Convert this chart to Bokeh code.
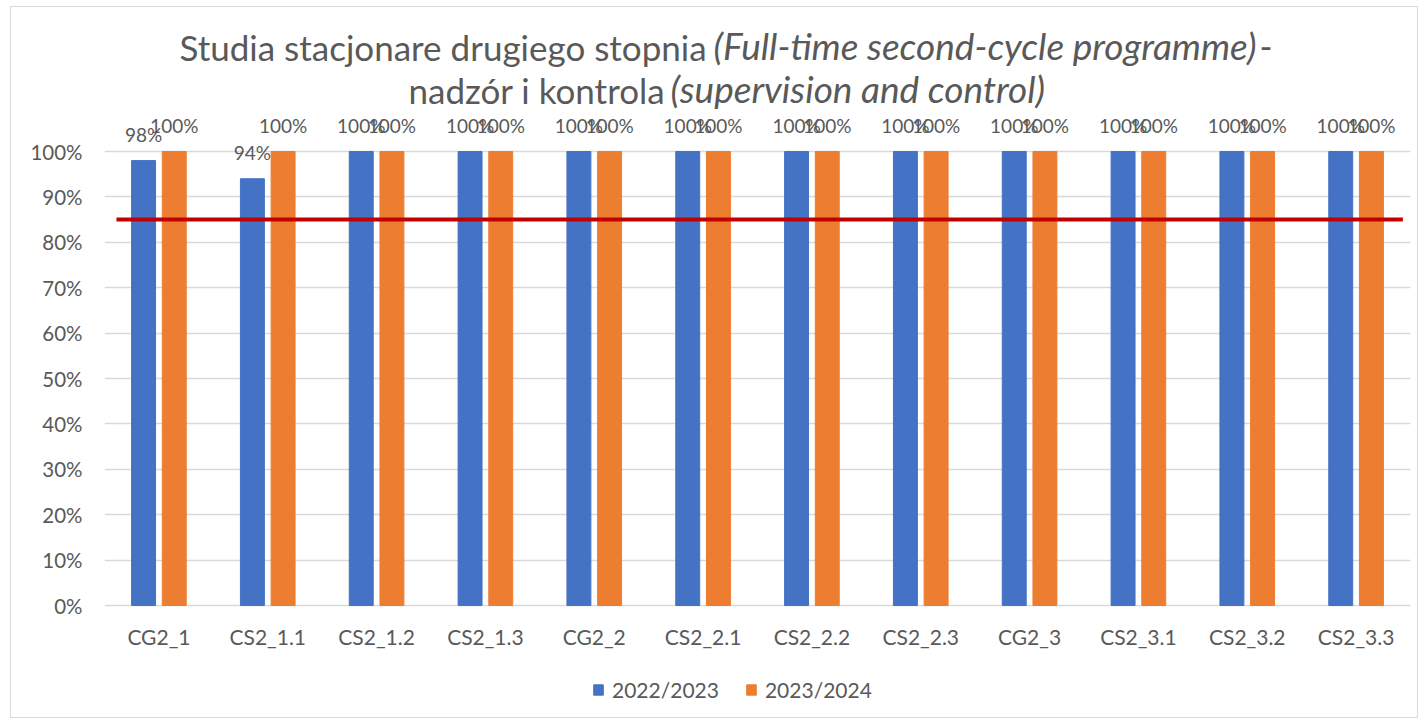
from bokeh.plotting import figure
from bokeh.models import (ColumnDataSource, FactorRange, Range1d, Legend, LegendItem,
                          Label, FixedTicker, NumeralTickFormatter)
from bokeh.transform import dodge
from bokeh.core.properties import value
from bokeh.embed import file_html
from bokeh.resources import INLINE

# ---------------- data ----------------
categories = ["CG2_1", "CS2_1.1", "CS2_1.2", "CS2_1.3", "CG2_2", "CS2_2.1",
              "CS2_2.2", "CS2_2.3", "CG2_3", "CS2_3.1", "CS2_3.2", "CS2_3.3"]
series_names = ["2022/2023", "2023/2024"]
values_2022_2023 = [0.98, 0.94, 1.00, 1.00, 1.00, 1.00, 1.00, 1.00, 1.00, 1.00, 1.00, 1.00]
values_2023_2024 = [1.00, 1.00, 1.00, 1.00, 1.00, 1.00, 1.00, 1.00, 1.00, 1.00, 1.00, 1.00]
threshold = 0.85
y_ticks = [0.0, 0.1, 0.2, 0.3, 0.4, 0.5, 0.6, 0.7, 0.8, 0.9, 1.0]

title_line1 = ["Studia stacjonare drugiego stopnia", "(Full-time second-cycle programme)", "-"]
title_line2 = ["nadzór i kontrola", "(supervision and control)"]

# ---------------- styling ----------------
FONT = "Lato"
TEXT = "#595959"
GRID = "#D9D9D9"
BLUE = "#4472C4"
ORANGE = "#ED7D31"
RED = "#C00000"

OX, OY = 11, 7            # page position of the canvas (css margin + border)
W, H = 1408, 712
FRAME_L, FRAME_R = 104, 1410   # page x of plot frame
ZERO_Y, ONE_Y = 605, 151       # page y of 0% and 100%
PX_PER_UNIT = ZERO_Y - ONE_Y
ML = FRAME_L - OX
MR = OX + W - FRAME_R
Y_END = (ZERO_Y - OY) / PX_PER_UNIT
Y_START = -(OY + H - ZERO_Y) / PX_PER_UNIT

src = ColumnDataSource(dict(
    cat=categories,
    v1=values_2022_2023,
    v2=values_2023_2024,
    l1=[f"{round(v*100)}%" for v in values_2022_2023],
    l2=[f"{round(v*100)}%" for v in values_2023_2024],
))

p = figure(x_range=FactorRange(factors=categories), y_range=Range1d(Y_START, Y_END),
           width=W, height=H, output_backend="svg", toolbar_location=None,
           title=None, min_border_left=ML, min_border_right=MR,
           min_border_top=0, min_border_bottom=0,
           styles={"border": "1px solid #D9D9D9", "margin-left": f"{OX - 1}px",
                   "margin-top": f"{OY - 1}px"})
p.outline_line_color = None
p.background_fill_color = "white"
p.border_fill_color = "white"

# grid / axes
p.xgrid.grid_line_color = None
p.ygrid.ticker = FixedTicker(ticks=y_ticks)
p.ygrid.grid_line_color = GRID
p.ygrid.grid_line_width = 1.5

p.yaxis.ticker = FixedTicker(ticks=y_ticks)
p.yaxis.formatter = NumeralTickFormatter(format="0%")
p.yaxis.axis_line_color = None
p.yaxis.major_tick_line_color = None
p.yaxis.minor_tick_line_color = None
p.yaxis.major_label_standoff = 16
p.yaxis.major_label_text_font = FONT
p.yaxis.major_label_text_font_size = "20.5px"
p.yaxis.major_label_text_color = TEXT

p.xaxis.fixed_location = 0
p.xaxis.axis_line_color = None
p.xaxis.major_tick_line_color = None
p.xaxis.major_tick_out = 0
p.xaxis.minor_tick_line_color = None
p.xaxis.major_label_standoff = 18
p.xaxis.major_label_text_font = FONT
p.xaxis.major_label_text_font_size = "21px"
p.xaxis.major_label_text_color = TEXT

# bars
BW = 0.22
OFF = 0.141
r1 = p.vbar(x=dodge("cat", -OFF, range=p.x_range), top="v1", width=BW, source=src,
            fill_color=BLUE, line_color=BLUE)
r2 = p.vbar(x=dodge("cat", OFF, range=p.x_range), top="v2", width=BW, source=src,
            fill_color=ORANGE, line_color=ORANGE)

# data labels
for col, lab, off in (("v1", "l1", -OFF), ("v2", "l2", OFF)):
    p.text(x=dodge("cat", off, range=p.x_range), y=col, text=lab, source=src,
           text_align="center", text_baseline="alphabetic", y_offset=-26,
           text_font=value(FONT), text_font_size="19px", text_color=TEXT)

# threshold line
thr_src = ColumnDataSource(dict(x0=[categories[0]], x1=[categories[-1]],
                                y0=[threshold], y1=[threshold]))
p.segment(x0=dodge("x0", -0.39, range=p.x_range), x1=dodge("x1", 0.43, range=p.x_range),
          y0="y0", y1="y1", source=thr_src, line_color=RED, line_width=4)

# legend (inside the full-height frame, below the axis labels)
legend = Legend(items=[LegendItem(label=series_names[0], renderers=[r1]),
                       LegendItem(label=series_names[1], renderers=[r2])],
                location=(592 - FRAME_L, (OY + H) - 702), orientation="horizontal",
                border_line_color=None, background_fill_alpha=0,
                label_text_font=FONT, label_text_font_size="21px",
                label_text_color=TEXT, glyph_width=12, glyph_height=13,
                label_standoff=8, spacing=26, padding=0, margin=0)
p.add_layout(legend, "center")

# title (mixed upright / italic pieces)
frame_w = FRAME_R - FRAME_L
def px_x(page_x):
    return (page_x - FRAME_L) / frame_w * len(categories)

def px_y(page_y):
    return (ZERO_Y - page_y) / PX_PER_UNIT

def title_piece(txt, page_x, baseline_y, style, align, size):
    p.add_layout(Label(x=px_x(page_x), y=px_y(baseline_y - 0.4 * size), text=txt,
                       text_font=FONT, text_font_size=f"{size}px", text_color=TEXT,
                       text_font_style=style, text_align=align,
                       text_baseline="alphabetic"))

title_piece(title_line1[0], 179, 60, "normal", "left", 35)
title_piece(title_line1[1], 713, 60, "italic", "left", 37)
title_piece(title_line1[2], 1272, 60, "normal", "right", 35)
title_piece(title_line2[0], 408, 103, "normal", "left", 35)
title_piece(title_line2[1], 670, 103, "italic", "left", 37)

open("out.html", "w").write(file_html(p, INLINE))
